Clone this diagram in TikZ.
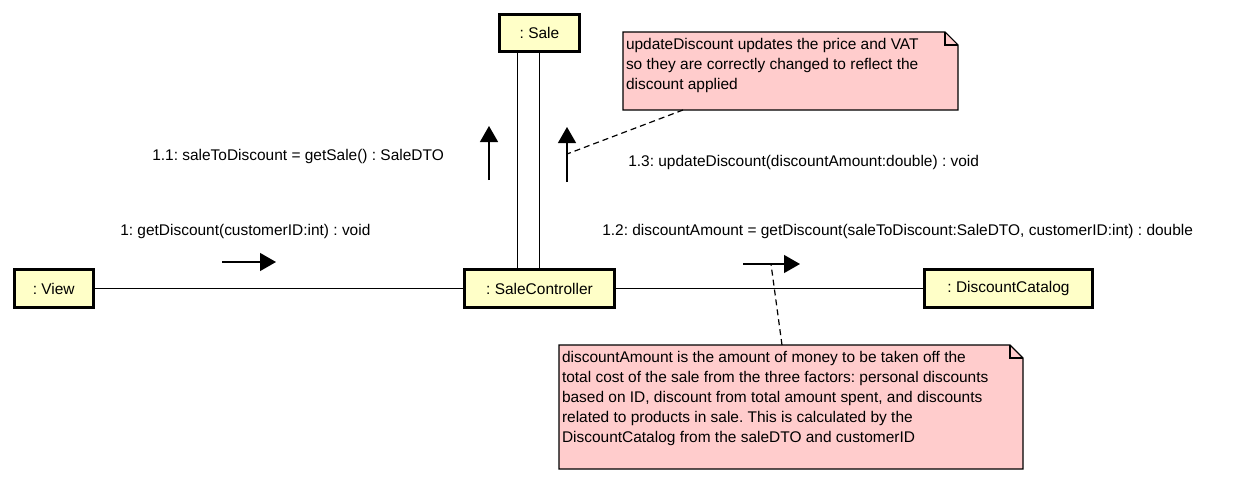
\documentclass[tikz,border=0pt]{standalone}
\usepackage{fontspec}
\setmainfont{Liberation Sans}
\usetikzlibrary{arrows.meta,backgrounds,calc}
\definecolor{objyellow}{RGB}{255,255,200}
\definecolor{notepink}{RGB}{255,204,204}
\tikzset{
  obj/.style={draw, line width=2.25pt, fill=objyellow, inner sep=0pt, minimum height=28.5pt},
  link/.style={line width=0.9pt},
  msg/.style={line width=0.9pt, -{Triangle[length=12pt,width=13.5pt]}},
  lbl/.style={anchor=west, inner sep=0pt},
  notetext/.style={anchor=north west, inner sep=2.25pt, outer sep=0pt},
  notebody/.style={draw, fill=notepink, line width=0.8pt},
  noteline/.style={line width=0.9pt, dash pattern=on 4.5pt off 3pt}
}
\frenchspacing
\begin{document}
\begin{tikzpicture}[x=0.75pt,y=-0.75pt]
\fontsize{11.6pt}{15pt}\selectfont
\useasboundingbox (0,0) rectangle (1233,482);
% objects
\node[obj, minimum width=59.25pt] (View) at (53.7,288.5) {: View};
\node[obj, minimum width=112.5pt] (SaleController) at (539.5,288.5) {: SaleController};
\node[obj, minimum width=126pt] (DiscountCatalog) at (1008.5,288.5) {: DiscountCatalog};
\node[obj, minimum width=60pt, minimum height=27.75pt] (Sale) at (539.5,33) {: Sale};
\draw[link] (View) -- (SaleController);
\draw[link] (SaleController) -- (DiscountCatalog);
\draw[link] (Sale.south) -- (SaleController.north);
\draw[link] ([xshift=-16.5pt]Sale.south) -- ([xshift=-16.5pt]SaleController.north);
% messages
\node[lbl] (lbl1) at (120,231) {1: getDiscount(customerID:int) : void};
\node[lbl] (lbl11) at (152,156) {1.1: saleToDiscount = getSale() : SaleDTO};
\node[lbl] (lbl12) at (602,231) {1.2: discountAmount = getDiscount(saleToDiscount:SaleDTO, customerID:int) : double};
\node[lbl] (lbl13) at (628,162) {1.3: updateDiscount(discountAmount:double) : void};
\coordinate (m1s) at (222,262);
\coordinate (m1e) at (276,262);
\coordinate (m11s) at (489,180);
\coordinate (m11e) at (489,126);
\coordinate (m12s) at (743,264);
\coordinate (m12e) at (800,264);
\coordinate (m13s) at (567,182);
\coordinate (m13e) at (567,127);
\draw[msg] (m1s) -- (m1e);
\draw[msg] (m11s) -- (m11e);
\draw[msg] (m12s) -- (m12e);
\draw[msg] (m13s) -- (m13e);
% notes
\node[notetext] (note1) at (623,32) {\parbox[c][54pt][t]{246.75pt}{\strut updateDiscount updates the price and VAT\\
so they are correctly changed to reflect the\\
discount applied}};
\node[notetext] (note2) at (559,345) {\parbox[c][88.5pt][t]{343.5pt}{\strut discountAmount is the amount of money to be taken off the\\
total cost of the sale from the three factors: personal discounts\\
based on ID, discount from total amount spent, and discounts\\
related to products in sale. This is calculated by the\\
DiscountCatalog from the saleDTO and customerID}};
\begin{scope}[on background layer]
\draw[notebody] (note1.north west) -- ([xshift=-9.75pt]note1.north east) -- ([yshift=-9.75pt]note1.north east) -- (note1.south east) -- (note1.south west) -- cycle;
\draw[notebody] (note2.north west) -- ([xshift=-9.75pt]note2.north east) -- ([yshift=-9.75pt]note2.north east) -- (note2.south east) -- (note2.south west) -- cycle;
\end{scope}
\draw[line width=0.8pt] ([xshift=-9.75pt]note1.north east) |- ([yshift=-9.75pt]note1.north east);
\draw[line width=0.8pt] ([xshift=-9.75pt]note2.north east) |- ([yshift=-9.75pt]note2.north east);
\coordinate (n1p) at (567,154);
\coordinate (n2p) at (771,264);
\draw[noteline] ([xshift=45pt]note1.south west) -- (n1p);
\draw[noteline] ([xshift=167.25pt]note2.north west) -- (n2p);
\end{tikzpicture}
\end{document}
